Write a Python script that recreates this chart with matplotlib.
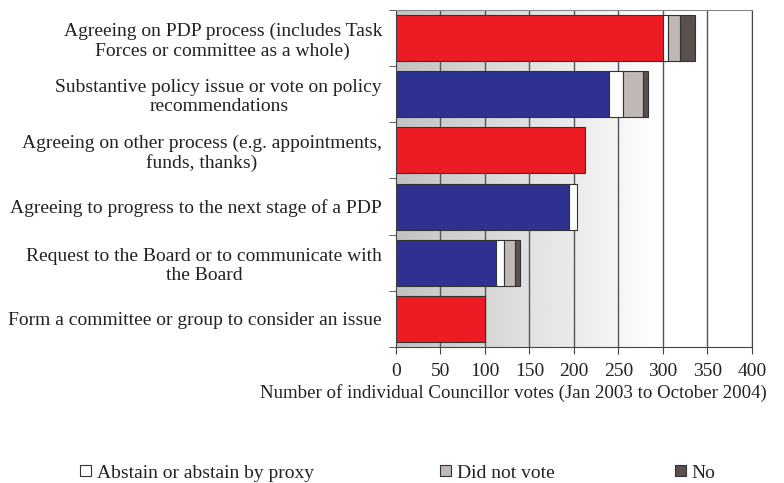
import numpy as np
import matplotlib.pyplot as plt
from matplotlib.patches import Patch

plt.rcParams['font.family'] = ['Liberation Serif', 'DejaVu Serif']

categories = ["Agreeing on PDP process (includes Task\nForces or committee as a whole)",
              "Substantive policy issue or vote on policy\nrecommendations",
              "Agreeing on other process (e.g. appointments,\nfunds, thanks)",
              "Agreeing to progress to the next stage of a PDP",
              "Request to the Board or to communicate with\nthe Board",
              "Form a committee or group to consider an issue"]
yes_votes = [300, 240, 212, 195, 113, 100]
abstain = [6, 15, 0, 9, 9, 0]
did_not_vote = [13, 23, 0, 0, 12, 0]
no_votes = [17, 5, 0, 0, 5, 0]
yes_colors = ['#ED1C24', '#2E3192', '#ED1C24', '#2E3192', '#2E3192', '#ED1C24']
xticks = [0, 50, 100, 150, 200, 250, 300, 350, 400]

FS = 14

fig = plt.figure(figsize=(7.84, 4.83), dpi=100)
ax = fig.add_axes([0.505, 0.282, 0.454, 0.697])

# grey-to-white background gradient
grad = np.clip(np.linspace(0.76, 1.08, 256), 0, 1).reshape(1, -1)
ax.imshow(grad, cmap='gray', vmin=0, vmax=1, aspect='auto',
          extent=[0, 400, -0.5, len(categories) - 0.5], zorder=0)

y = np.arange(len(categories))
for xv in xticks[1:]:
    ax.axvline(xv, color='#555555', lw=1, zorder=1)

left = np.zeros(len(categories))
ax.barh(y, yes_votes, height=0.82, color=yes_colors, edgecolor='#333333', lw=0.8, zorder=2)
left += yes_votes
series = [(abstain, '#FFFFFF', 'Abstain or abstain by proxy'),
          (did_not_vote, '#C0B8B6', 'Did not vote'),
          (no_votes, '#5A504E', 'No')]
handles = []
for vals, col, name in series:
    vals = np.array(vals)
    mask = vals > 0
    ax.barh(y[mask], vals[mask], left=left[mask], height=0.82, color=col,
            edgecolor='#333333', lw=0.8, zorder=2)
    left += vals
    handles.append(Patch(facecolor=col, edgecolor='#333333', lw=0.8, label=name))

ax.set_xlim(0, 400)
ax.set_ylim(len(categories) - 0.5, -0.5)
ax.set_xticks(xticks)
ax.set_yticks(y)
ax.set_yticklabels(categories, multialignment='center', linespacing=1.15)
ax.set_yticks(np.arange(len(categories) + 1) - 0.5, minor=True)
ax.tick_params(axis='y', which='major', length=0, pad=10, labelsize=FS, labelcolor='#222222')
ax.tick_params(axis='y', which='minor', length=5, direction='out', color='#444444')
ax.tick_params(axis='x', length=5, direction='out', color='#444444', labelsize=FS,
               pad=7, labelcolor='#222222')
for s in ['left', 'bottom', 'right']:
    ax.spines[s].set_color('#444444')
ax.spines['top'].set_color('#888888')

# axis title sits left of the axis centre in the original
fig.text(513 / 784, 1 - 393 / 483,
         'Number of individual Councillor votes (Jan 2003 to October 2004)',
         fontsize=13.6, color='#222222', ha='center', va='center')

# legend entries sit in fixed-width columns, as in the original
legend_x = [80, 440, 675]
for h, lx in zip(handles, legend_x):
    fig.legend(handles=[h], loc='center left', bbox_to_anchor=(lx / 784, 1 - 473 / 483),
               frameon=False, fontsize=FS, handlelength=0.55, handleheight=0.55,
               handletextpad=0.3, borderpad=0, borderaxespad=0, labelcolor='#222222')

fig.savefig('out.png', dpi=100)
